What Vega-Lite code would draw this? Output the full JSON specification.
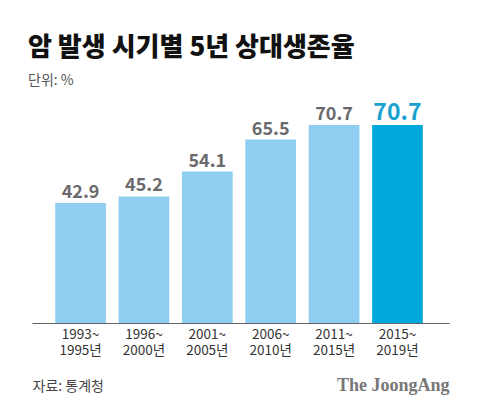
{
  "$schema": "https://vega.github.io/schema/vega-lite/v6.json",
  "autosize": {"type": "none"},
  "width": 417,
  "height": 224,
  "padding": {"left": 32, "top": 99, "right": 31, "bottom": 88},
  "background": "#ffffff",
  "config": {
    "view": {"stroke": null},
    "font": "Noto Sans CJK KR"
  },
  "title": {
    "text": "암 발생 시기별 5년 상대생존율",
    "subtitle": "단위: %",
    "anchor": "start",
    "dx": -4,
    "offset": 11,
    "font": "Noto Sans CJK KR",
    "fontSize": 26,
    "fontWeight": 900,
    "color": "#111111",
    "subtitleFont": "Noto Sans CJK KR",
    "subtitleFontSize": 14,
    "subtitleColor": "#555555",
    "subtitlePadding": 13
  },
  "data": {
    "values": [
      {"period": "1993~1995년", "rate": 42.9, "highlight": "no"},
      {"period": "1996~2000년", "rate": 45.2, "highlight": "no"},
      {"period": "2001~2005년", "rate": 54.1, "highlight": "no"},
      {"period": "2006~2010년", "rate": 65.5, "highlight": "no"},
      {"period": "2011~2015년", "rate": 70.7, "highlight": "no"},
      {"period": "2015~2019년", "rate": 70.7, "highlight": "yes"}
    ]
  },
  "encoding": {
    "x": {
      "field": "period",
      "type": "nominal",
      "sort": null,
      "scale": {"paddingInner": 0.2, "paddingOuter": 0.39, "align": 0.47},
      "axis": {
        "title": "자료: 통계청",
        "titleFont": "Noto Sans CJK KR",
        "titleFontSize": 14,
        "titleFontWeight": "normal",
        "titleColor": "#444444",
        "titleAnchor": "start",
        "titleAlign": "left",
        "titleBaseline": "alphabetic",
        "titleX": 0,
        "titleY": 67,
        "labelAngle": 0,
        "labelExpr": "[slice(datum.label, 0, 5), slice(datum.label, 5)]",
        "labelFont": "Noto Sans CJK KR",
        "labelFontSize": 13.5,
        "labelLineHeight": 16,
        "labelColor": "#333333",
        "labelPadding": 4,
        "labelOverlap": false,
        "ticks": false,
        "domainColor": "#666666",
        "domainWidth": 1.2,
        "grid": false
      }
    },
    "y": {
      "field": "rate",
      "type": "quantitative",
      "scale": {"domain": [0, 80], "nice": false},
      "axis": {
        "orient": "right",
        "title": "The JoongAng",
        "titleFont": "Liberation Serif",
        "titleFontSize": 18,
        "titleFontWeight": "bold",
        "titleColor": "#777777",
        "titleAngle": 0,
        "titleAlign": "right",
        "titleBaseline": "alphabetic",
        "titleX": 0,
        "titleY": 291,
        "labels": false,
        "ticks": false,
        "domain": false,
        "grid": false
      }
    }
  },
  "layer": [
    {
      "mark": {"type": "bar"},
      "encoding": {
        "color": {
          "field": "highlight",
          "type": "nominal",
          "scale": {"domain": ["no", "yes"], "range": ["#8fcdf1", "#00a8dc"]},
          "legend": null
        }
      }
    },
    {
      "mark": {"type": "text", "baseline": "alphabetic", "dy": -5, "fontWeight": "bold", "font": "Noto Sans CJK KR"},
      "encoding": {
        "text": {"field": "rate", "type": "quantitative", "format": ".1f"},
        "color": {
          "field": "highlight",
          "type": "nominal",
          "scale": {"domain": ["no", "yes"], "range": ["#6a6a6c", "#1aa2cf"]},
          "legend": null
        },
        "size": {
          "field": "highlight",
          "type": "nominal",
          "scale": {"domain": ["no", "yes"], "range": [18, 23]},
          "legend": null
        }
      }
    }
  ],
  "resolve": {"scale": {"color": "independent"}}
}
